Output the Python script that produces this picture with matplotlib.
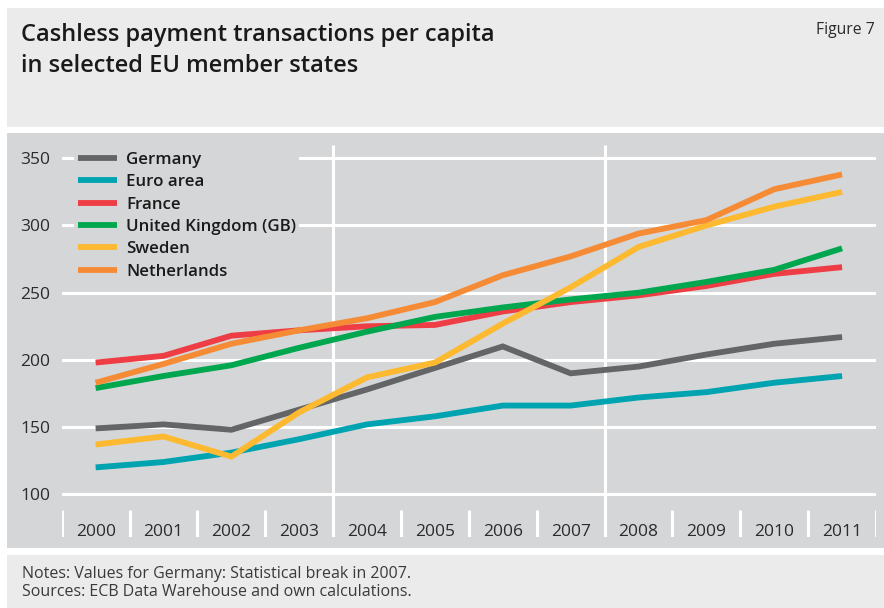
import matplotlib
matplotlib.use("Agg")
import matplotlib.pyplot as plt
from matplotlib.patches import Rectangle

plt.rcParams['font.family'] = ['Open Sans', 'DejaVu Sans']

years = [str(y) for y in range(2000, 2012)]

germany = [149, 152, 148, 163, 178, 194, 210, 190, 195, 204, 212, 217]
euro_area = [120, 124, 131, 141, 152, 158, 166, 166, 172, 176, 183, 188]
france = [198, 203, 218, 222, 225, 226, 236, 243, 248, 255, 264, 269]
united_kingdom = [179, 188, 196, 209, 221, 232, 239, 245, 250, 258, 267, 283]
sweden = [137, 143, 128, 161, 187, 198, 227, 254, 284, 300, 314, 325]
netherlands = [183, 197, 212, 222, 231, 243, 263, 277, 294, 304, 327, 338]

series = [
    ("Germany", germany, "#646567"),
    ("Euro area", euro_area, "#00a3b0"),
    ("France", france, "#ee3d44"),
    ("United Kingdom (GB)", united_kingdom, "#00a74f"),
    ("Sweden", sweden, "#fdb92f"),
    ("Netherlands", netherlands, "#f68b35"),
]

y_ticks = [100, 150, 200, 250, 300, 350]

W, H = 884, 608
fig = plt.figure(figsize=(W / 100, H / 100), dpi=100)
fig.patch.set_facecolor("white")

panel = "#d5d6d8"
light = "#ebebeb"


def box(x0, y0, x1, y1, color):
    # pixel box measured from the top-left corner
    fig.patches.append(Rectangle((x0 / W, 1 - y1 / H), (x1 - x0) / W, (y1 - y0) / H,
                                 transform=fig.transFigure, facecolor=color,
                                 edgecolor="none", zorder=-10))


box(7, 8, W, 127, light)
box(7, 133, W, 548, panel)
box(7, 555, W, H, light)

fig.text(21 / W, 1 - 50.5 / H, "Cashless payment transactions per capita\nin selected EU member states",
         fontsize=17, fontweight="semibold", color="#1a1a1a", va="center", ha="left",
         linespacing=1.38)
fig.text(875 / W, 1 - 30 / H, "Figure 7", fontsize=11.3, color="#2b2b2b", ha="right", va="center")
fig.text(22 / W, 1 - 583 / H,
         "Notes: Values for Germany: Statistical break in 2007.\nSources: ECB Data Warehouse and own calculations.",
         fontsize=11.5, color="#3a3a3a", ha="left", va="center", linespacing=1.2)

ax_l, ax_r, ax_t, ax_b = 61.7, 876, 145, 537
ax = fig.add_axes([ax_l / W, 1 - ax_b / H, (ax_r - ax_l) / W, (ax_b - ax_t) / H])
ax.set_facecolor("none")
for s in ax.spines.values():
    s.set_visible(False)

x = list(range(len(years)))
ax.set_xlim(-0.5, len(years) - 0.5)
ax.set_ylim(68.2, 359.9)

for name, vals, col in series:
    ax.plot(x, vals, color=col, lw=4.2, label=name, solid_capstyle="butt",
            solid_joinstyle="miter", zorder=3)

ax.set_yticks(y_ticks)
ax.set_yticklabels([str(v) for v in y_ticks])
ax.tick_params(axis="y", length=0, pad=8, labelsize=12.5, labelcolor="#2b2b2b")
ax.set_xticks([])
ax.yaxis.grid(True, color="white", lw=2.2, zorder=1)
ax.set_axisbelow(True)

# category separators under the year labels, two long ones splitting the period
ax.vlines([i - 0.5 for i in range(len(years) + 1)], 68.2, 88.5, color="white", lw=2.2, zorder=1)
ax.vlines([3.5, 7.5], 68.2, 359.9, color="white", lw=2.2, zorder=1)

xt = ax.get_xaxis_transform()
for i, lab in enumerate(years):
    ax.text(i, 0.013, lab, transform=xt, ha="center", va="center", fontsize=12.5, color="#2b2b2b")

leg = ax.legend(loc="upper left", bbox_to_anchor=(0.005, 1.012), frameon=True, fancybox=False,
                facecolor=panel, edgecolor="none", framealpha=1, handlelength=2.3,
                handletextpad=0.55, labelspacing=0.37, borderpad=0.2,
                prop={"size": 12.2, "weight": "semibold"})
leg.set_zorder(5)
for t in leg.get_texts():
    t.set_color("#1a1a1a")

fig.savefig("out.png", dpi=100)
